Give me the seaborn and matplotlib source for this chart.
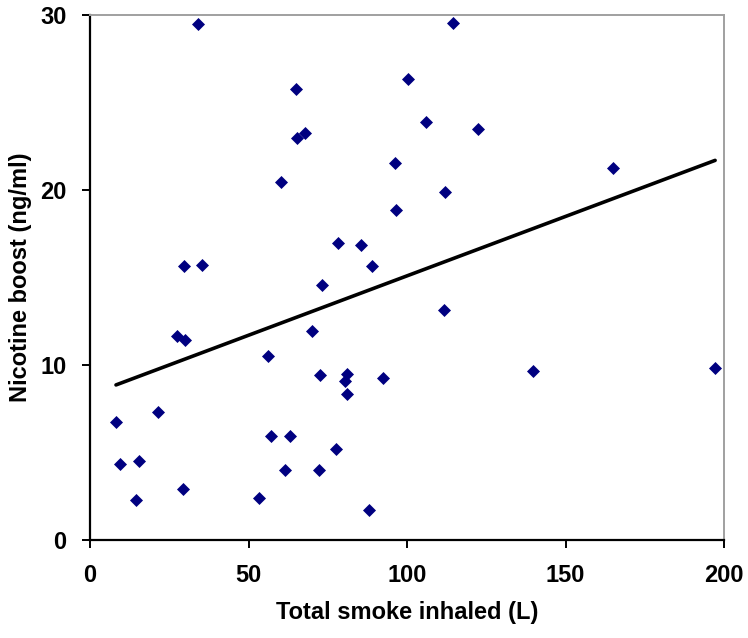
import matplotlib
matplotlib.use("Agg")
import matplotlib.pyplot as plt
import seaborn as sns
import pandas as pd

smoke = [34.0, 114.4, 100.2, 65.1, 106.1, 122.3, 67.9, 65.2, 96.1, 164.9,
         60.4, 112.1, 96.4, 78.1, 85.6, 29.7, 35.4, 89.0, 73.3, 111.6,
         69.9, 27.3, 29.9, 56.1, 139.7, 197.2, 72.6, 81.1, 80.3, 92.3,
         81.1, 8.2, 21.6, 57.0, 63.1, 77.5, 9.5, 15.5, 61.5, 72.3,
         29.3, 53.3, 14.4, 88.0]
boost = [29.47, 29.57, 26.36, 25.77, 23.86, 23.46, 23.25, 22.96, 21.57, 21.24,
         20.46, 19.87, 18.85, 16.95, 16.85, 15.66, 15.74, 15.66, 14.56, 13.14,
         11.94, 11.63, 11.42, 10.52, 9.63, 9.84, 9.42, 9.46, 9.11, 9.23,
         8.33, 6.72, 7.32, 5.92, 5.92, 5.21, 4.32, 4.53, 4.01, 4.01,
         2.92, 2.42, 2.31, 1.70]
x_ticks = [0, 50, 100, 150, 200]
y_ticks = [0, 10, 20, 30]

df = pd.DataFrame({"smoke": smoke, "boost": boost})

sns.set_style("white")
plt.rcParams['font.family'] = ['Liberation Sans', 'DejaVu Sans']
plt.rcParams['text.color'] = 'black'
plt.rcParams['axes.labelcolor'] = 'black'
plt.rcParams['xtick.color'] = 'black'
plt.rcParams['ytick.color'] = 'black'

fig = plt.figure(figsize=(7.48, 6.38), dpi=100)
ax = fig.add_axes([90/748, 1-540/638, (724-90)/748, (540-15)/638])

sns.regplot(data=df, x="smoke", y="boost", ax=ax, ci=None, marker="D",
            scatter_kws=dict(color="#000080", s=44, linewidths=0, alpha=1),
            line_kws=dict(color="black", lw=2.6))

ax.set_xlim(0, 200)
ax.set_ylim(0, 30)
ax.set_xticks(x_ticks)
ax.set_yticks(y_ticks)
ax.set_xticklabels([str(t) for t in x_ticks], fontsize=17, fontweight="bold", color="black")
ax.set_yticklabels([str(t) for t in y_ticks], fontsize=17, fontweight="bold", color="black")
ax.set_xlabel("Total smoke inhaled (L)", fontsize=17, fontweight="bold", labelpad=10, color="black")
ax.set_ylabel("Nicotine boost (ng/ml)", fontsize=17, fontweight="bold", labelpad=6, color="black")

for s in ["left", "bottom"]:
    ax.spines[s].set_color("black")
    ax.spines[s].set_linewidth(1.6)
for s in ["top", "right"]:
    ax.spines[s].set_visible(True)
    ax.spines[s].set_color("#a0a0a0")
    ax.spines[s].set_linewidth(1.4)

ax.tick_params(axis="both", which="major", direction="out", length=6, width=1.4,
               color="black", labelcolor="black", left=True, bottom=True, pad=11)

fig.savefig("out.png", dpi=100)
